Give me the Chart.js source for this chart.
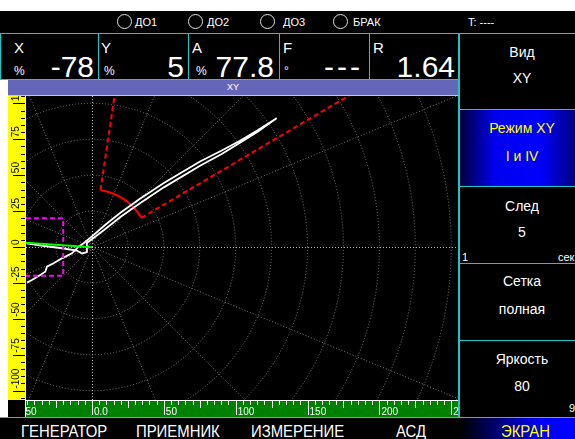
<!DOCTYPE html>
<html>
<head>
<meta charset="utf-8">
<script src="https://cdn.jsdelivr.net/npm/chart.js@4/dist/chart.umd.min.js"></script>
<style>
body{margin:0;width:575px;height:439px;overflow:hidden;background:#fff;position:relative;font-family:"Liberation Sans",Arial,sans-serif;color:#fff}
.a{position:absolute;white-space:nowrap;line-height:1}
.blk{position:absolute;background:#000}
.cy{position:absolute;background:#19c8c8}
.ring{position:absolute;top:14px;width:15px;height:15px;border:1px solid #e0e0e0;border-radius:50%;box-sizing:border-box}
.st{top:17px;font-size:11px}
.lb{top:40px;font-size:15px}
.un{top:65px;font-size:12px}
.vl{top:52px;font-size:30px}
.pt{left:460px;width:124px;text-align:center;font-size:14px}
.mn{top:424px;font-size:16px;transform:scaleX(.93);transform-origin:left}
#scope{position:absolute;left:8px;top:96px}
</style>
</head>
<body>
<!-- status bar -->
<div class="blk" style="left:0;top:11px;width:575px;height:22px"></div>
<div class="cy" style="left:0;top:33px;width:575px;height:1px"></div>
<span class="ring" style="left:117px"></span><span class="a st" style="left:135px">ДО1</span>
<span class="ring" style="left:188px"></span><span class="a st" style="left:207px">ДО2</span>
<span class="ring" style="left:260px"></span><span class="a st" style="left:283px">ДО3</span>
<span class="ring" style="left:333px"></span><span class="a st" style="left:353px">БРАК</span>
<span class="a st" style="left:468px">T: ----</span>

<!-- readouts -->
<div class="blk" style="left:0;top:34px;width:458px;height:45px"></div>
<div class="cy" style="left:0;top:33px;width:1px;height:47px"></div>
<div class="cy" style="left:98px;top:34px;width:1px;height:45px"></div>
<div class="cy" style="left:188px;top:34px;width:1px;height:45px"></div>
<div class="cy" style="left:279px;top:34px;width:1px;height:45px"></div>
<div class="cy" style="left:369px;top:34px;width:1px;height:45px"></div>
<div class="cy" style="left:0;top:79px;width:458px;height:1px"></div>
<span class="a lb" style="left:14px">X</span><span class="a un" style="left:14px">%</span><span class="a vl" style="right:481px">-78</span>
<span class="a lb" style="left:101px">Y</span><span class="a un" style="left:104px">%</span><span class="a vl" style="right:391px">5</span>
<span class="a lb" style="left:192px">A</span><span class="a un" style="left:196px">%</span><span class="a vl" style="right:301px">77.8</span>
<span class="a lb" style="left:283px">F</span><span class="a un" style="left:284px">°</span><span class="a vl" style="right:212px;letter-spacing:3px">---</span>
<span class="a lb" style="left:373px">R</span><span class="a vl" style="right:120px">1.64</span>

<!-- view title -->
<div style="position:absolute;left:8px;top:80px;width:450px;height:16px;background:#6666b8;border-bottom:1px solid #c8c8c8;box-sizing:border-box;font-size:9px;text-align:center;line-height:15px">XY</div>

<canvas id="scope" width="450" height="321"></canvas>

<!-- side menu -->
<div class="cy" style="left:458px;top:33px;width:2px;height:384px"></div>
<div class="blk" style="left:460px;top:34px;width:115px;height:383px"></div>
<div style="position:absolute;left:460px;top:110px;width:115px;height:76px;background:linear-gradient(to right,#00003a 0%,#0000f0 30%,#0000ff 70%,#000080 100%)"></div>
<div class="cy" style="left:460px;top:109px;width:115px;height:1px"></div>
<div class="cy" style="left:460px;top:186px;width:115px;height:1px"></div>
<div class="cy" style="left:460px;top:263px;width:115px;height:1px"></div>
<div class="cy" style="left:460px;top:340px;width:115px;height:1px"></div>
<div class="a pt" style="top:45px">Вид</div>
<div class="a pt" style="top:71px">XY</div>
<div class="a pt" style="top:121px;color:#ffff00">Режим XY</div>
<div class="a pt" style="top:149px;color:#ffff00">I и IV</div>
<div class="a pt" style="top:199px">След</div>
<div class="a pt" style="top:225px">5</div>
<span class="a" style="left:462px;top:252px;font-size:11px">1</span>
<span class="a" style="left:558px;top:252px;font-size:11px">сек</span>
<div class="a pt" style="top:274px">Сетка</div>
<div class="a pt" style="top:302px">полная</div>
<div class="a pt" style="top:352px">Яркость</div>
<div class="a pt" style="top:379px">80</div>
<span class="a" style="left:569px;top:403px;font-size:11px">9</span>

<!-- bottom menu -->
<div class="cy" style="left:0;top:417px;width:575px;height:1px"></div>
<div class="blk" style="left:0;top:418px;width:575px;height:21px"></div>
<div style="position:absolute;left:460px;top:418px;width:115px;height:21px;background:linear-gradient(to right,#000 0%,#0000ff 70%,#0000ff 100%)"></div>
<span class="a mn" style="left:21px">ГЕНЕРАТОР</span>
<span class="a mn" style="left:136px">ПРИЕМНИК</span>
<span class="a mn" style="left:251px">ИЗМЕРЕНИЕ</span>
<span class="a mn" style="left:396px">АСД</span>
<span class="a mn" style="left:501px;color:#ffff00">ЭКРАН</span>

<script>
// plane limits (signal units)
const xMin = -45.9, xMax = 254.7;
const yMin = -106.5, yMax = 105.1;

// polar grid
const gridStep = 25, gridRings = 12, spokeStep = 22.5;

// signal trace (hodograph), out along the upper strand and back along the lower one
const traceX = [-45.2, -41.8, -36, -32.5, -31.3, -26.7, -20.9, -13.9, -9.3, -5.8, 1.2, 9.3, 20, 33.4, 50, 75.2, 90, 103, 115, 128.5,
                115, 103, 90, 75.2, 50, 33.4, 20, 9.3, 2, -3.5, -3.5, -7, -10.5, -22, -33, -40, -45.5];
const traceY = [-24.8, -23, -19.5, -17.2, -13.7, -11.3, -7.9, -4.4, 0.2, 2.6, 8.4, 15.5, 24, 33.5, 44.5, 59.5, 67, 74, 81, 89.6,
                80, 72.5, 64.5, 56.5, 41.5, 30.5, 21, 12.5, 7, 2.8, -3.5, -4.5, -2.5, -0.7, 0.7, 1.6, 2.6];

// balance line
const baseX = [-46, 0];
const baseY = [3.0, -0.2];

// noise box
const boxX = [-46, -20, -20, -46];
const boxY = [20, 20, -20, -20];

// alarm zone: radius, from/to angle in degrees
const zoneRadius = 40, zoneFrom = 30.5, zoneTo = 81.5;

// ruler labels
const xLabelValues = [-50, 0, 50, 100, 150, 200, 250];
const xLabelTexts = ['-50', '0.0', '50', '100', '150', '200', '250'];
const yLabelValues = [-100, -75, -50, -25, 0, 25, 50, 75, 100];
const yLabelTexts = ['-100', '-75', '-50', '-25', '0', '25', '50', '75', '100'];

const toPoints = (xs, ys) => xs.map((x, i) => ({x: x, y: ys[i]}));

const scopePlugin = {
    id: 'scope',
    beforeDraw(chart) {
        const {ctx, chartArea: a, width, height} = chart;
        ctx.save();
        ctx.fillStyle = '#000';
        ctx.fillRect(0, 0, width, height);
        ctx.fillStyle = '#ffff00';
        ctx.fillRect(0, a.top, a.left - 1, a.bottom - a.top);
        ctx.fillStyle = '#008000';
        ctx.fillRect(a.left, a.bottom, a.right - a.left, height - a.bottom);
        ctx.restore();
    },
    beforeDatasetsDraw(chart) {
        const {ctx, chartArea: a, scales: {x, y}} = chart;
        const cx = x.getPixelForValue(0), cy = y.getPixelForValue(0);
        const ring = x.getPixelForValue(gridStep) - cx;
        const far = ring * gridRings;
        ctx.save();
        ctx.beginPath();
        ctx.rect(a.left, a.top, a.right - a.left, a.bottom - a.top);
        ctx.clip();
        ctx.lineWidth = 1;
        ctx.setLineDash([1, 2]);
        ctx.strokeStyle = '#787878';
        for (let k = 1; k <= gridRings; k++) {
            ctx.beginPath();
            ctx.arc(cx, cy, ring * k, 0, 2 * Math.PI);
            ctx.stroke();
        }
        for (let ang = 0; ang < 360; ang += spokeStep) {
            if (ang % 90 === 0) continue;
            const t = ang * Math.PI / 180;
            ctx.beginPath();
            ctx.moveTo(cx, cy);
            ctx.lineTo(cx + far * Math.cos(t), cy - far * Math.sin(t));
            ctx.stroke();
        }
        // main axes, a bit brighter
        ctx.strokeStyle = '#b4b4b4';
        const hx = Math.round(cx) + 0.5, hy = Math.round(cy) + 0.5;
        ctx.beginPath();
        ctx.moveTo(a.left, hy); ctx.lineTo(a.right, hy);
        ctx.moveTo(hx, a.top); ctx.lineTo(hx, a.bottom);
        ctx.stroke();

        // alarm zone
        const zr = x.getPixelForValue(zoneRadius) - cx;
        ctx.strokeStyle = '#ff0000';
        ctx.lineWidth = 2;
        ctx.setLineDash([]);
        ctx.beginPath();
        ctx.arc(cx, cy, zr, -zoneTo * Math.PI / 180, -zoneFrom * Math.PI / 180);
        ctx.stroke();
        ctx.setLineDash([5, 3]);
        [zoneFrom, zoneTo].forEach(ang => {
            const t = ang * Math.PI / 180;
            ctx.beginPath();
            ctx.moveTo(cx + zr * Math.cos(t), cy - zr * Math.sin(t));
            ctx.lineTo(cx + far * Math.cos(t), cy - far * Math.sin(t));
            ctx.stroke();
        });
        ctx.restore();
    },
    afterDraw(chart) {
        const {ctx, chartArea: a, height, scales: {x, y}} = chart;
        ctx.save();
        ctx.fillStyle = '#fff';
        ctx.fillRect(a.left - 1, 0, 1, height);
        ctx.fillRect(a.left, a.bottom, a.right - a.left, 1);
        ctx.font = '10px "Liberation Sans", Arial, sans-serif';
        ctx.textAlign = 'left';
        ctx.textBaseline = 'alphabetic';

        // yellow ruler (Y)
        ctx.save();
        ctx.beginPath();
        ctx.rect(0, a.top, a.left - 1, a.bottom - a.top);
        ctx.clip();
        ctx.fillStyle = '#000';
        for (let v = -110; v <= 110; v += 5) {
            const py = Math.round(y.getPixelForValue(v));
            const len = v % 25 === 0 ? 12 : 4;
            ctx.fillRect(a.left - 1 - len, py, len, 1);
        }
        yLabelValues.forEach((v, i) => {
            ctx.save();
            ctx.translate(a.left - 7, y.getPixelForValue(v) - 2);
            ctx.rotate(-Math.PI / 2);
            ctx.fillText(yLabelTexts[i], 0, 0);
            ctx.restore();
        });
        ctx.restore();

        // green ruler (X)
        ctx.save();
        ctx.beginPath();
        ctx.rect(a.left, a.bottom, a.right - a.left, height - a.bottom);
        ctx.clip();
        ctx.fillStyle = '#fff';
        for (let v = -50; v <= 260; v += 5) {
            const px = Math.round(x.getPixelForValue(v));
            const len = v % 50 === 0 ? 14 : (v % 25 === 0 ? 7 : 4);
            ctx.fillRect(px, a.bottom, 1, len + 1);
        }
        xLabelValues.forEach((v, i) => {
            ctx.fillText(xLabelTexts[i], x.getPixelForValue(v) + 2, a.bottom + 15);
        });
        ctx.restore();
        ctx.restore();
    }
};

new Chart(document.getElementById('scope'), {
    type: 'scatter',
    data: {
        datasets: [{
            data: toPoints(baseX, baseY),
            borderColor: '#00ff00',
            borderWidth: 2,
            showLine: true,
            pointRadius: 0
        }, {
            data: toPoints(boxX, boxY),
            borderColor: '#ff00ff',
            borderWidth: 2,
            borderDash: [5, 3],
            showLine: true,
            pointRadius: 0
        }, {
            data: toPoints(traceX, traceY),
            borderColor: '#ffffff',
            borderWidth: 1.8,
            showLine: true,
            pointRadius: 0,
            tension: 0
        }]
    },
    options: {
        responsive: false,
        animation: false,
        events: [],
        layout: {padding: {left: 18, top: 0, right: 0, bottom: 17}},
        plugins: {
            legend: {display: false},
            tooltip: {enabled: false}
        },
        scales: {
            x: {type: 'linear', min: xMin, max: xMax, display: false},
            y: {type: 'linear', min: yMin, max: yMax, display: false}
        }
    },
    plugins: [scopePlugin]
});
</script>
</body>
</html>
